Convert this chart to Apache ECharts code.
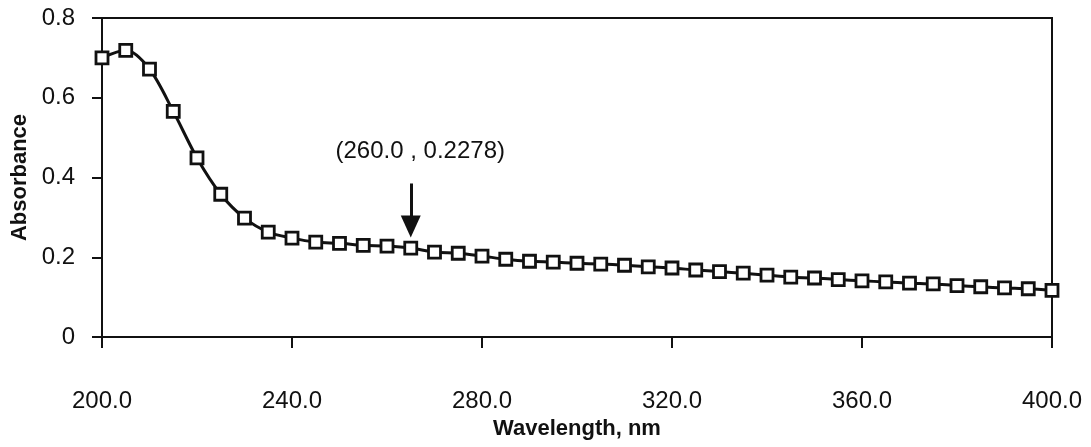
<!DOCTYPE html>
<html>
<head>
<meta charset="utf-8">
<style>html,body{margin:0;padding:0;background:#fff;}#c{width:1091px;height:447px;}</style>
<script src="https://cdn.jsdelivr.net/npm/echarts@6/dist/echarts.min.js"></script>
</head>
<body>
<div id="c"></div>
<script>
var wavelengths = [200,205,210,215,220,225,230,235,240,245,250,255,260,265,270,275,280,285,290,295,300,305,310,315,320,325,330,335,340,345,350,355,360,365,370,375,380,385,390,395,400];
var absorbance = [0.700,0.719,0.672,0.566,0.449,0.358,0.298,0.263,0.248,0.238,0.235,0.230,0.228,0.223,0.213,0.210,0.203,0.195,0.190,0.188,0.185,0.183,0.180,0.176,0.173,0.168,0.164,0.160,0.155,0.150,0.148,0.144,0.141,0.138,0.135,0.133,0.129,0.126,0.123,0.121,0.117];
var xTicks = [200,240,280,320,360,400];
var yTicks = [0,0.2,0.4,0.6,0.8];
var annotationText = '(260.0 , 0.2278)';
var annotationPos = [267, 0.466];
var arrowFrom = [265, 0.385];
var arrowTo = [265, 0.277];

var chart = echarts.init(document.getElementById('c'));
var font = '"Liberation Sans", Arial, sans-serif';
chart.setOption({
  animation: false,
  backgroundColor: '#fff',
  grid: {left: 102, right: 39, top: 18, bottom: 110, show: true, borderColor: '#111', borderWidth: 2, backgroundColor: 'transparent'},
  xAxis: {
    type: 'value', min: 200, max: 400, interval: 40,
    name: 'Wavelength, nm', nameLocation: 'middle', nameGap: 76,
    nameTextStyle: {fontFamily: font, fontSize: 22, fontWeight: 'bold', color: '#111'},
    axisLine: {show: true, lineStyle: {color: '#111', width: 2}},
    axisTick: {show: true, length: 11, lineStyle: {color: '#111', width: 2}},
    axisLabel: {margin: 52, fontFamily: font, fontSize: 24, color: '#111',
      formatter: function(v){ return xTicks.indexOf(v) >= 0 ? v.toFixed(1) : ''; }},
    splitLine: {show: false}
  },
  yAxis: {
    type: 'value', min: 0, max: 0.8, interval: 0.2,
    name: 'Absorbance', nameLocation: 'middle', nameGap: 70,
    nameTextStyle: {fontFamily: font, fontSize: 22, fontWeight: 'bold', color: '#111'},
    axisLine: {show: true, lineStyle: {color: '#111', width: 2}},
    axisTick: {show: true, length: 10, lineStyle: {color: '#111', width: 2}},
    axisLabel: {margin: 27, fontFamily: font, fontSize: 24, color: '#111',
      formatter: function(v){ var r = Math.round(v*10)/10; return yTicks.indexOf(r) >= 0 ? String(r) : ''; }},
    splitLine: {show: false}
  },
  series: [{
    type: 'line',
    data: wavelengths.map(function(w, i){ return [w, absorbance[i]]; }),
    smooth: 0.3,
    symbol: 'rect', symbolSize: 12,
    itemStyle: {color: '#fff', borderColor: '#111', borderWidth: 2.8},
    lineStyle: {color: '#111', width: 3},
    markLine: {
      silent: true,
      symbol: ['none', 'triangle'],
      symbolSize: [20, 22],
      lineStyle: {color: '#111', width: 3, type: 'solid'},
      itemStyle: {color: '#111'},
      label: {show: false},
      data: [[{coord: arrowFrom}, {coord: arrowTo}]]
    },
    markPoint: {
      silent: true,
      symbol: 'rect', symbolSize: 1,
      itemStyle: {color: 'rgba(0,0,0,0)'},
      label: {show: true, position: 'inside', formatter: annotationText, fontFamily: font, fontSize: 24, color: '#111'},
      data: [{coord: annotationPos}]
    }
  }]
});
</script>
</body>
</html>
